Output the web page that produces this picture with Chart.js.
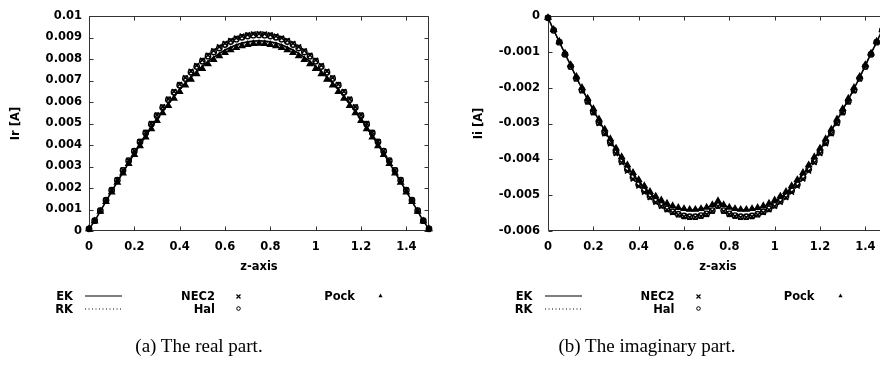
<!DOCTYPE html>
<html><head><meta charset="utf-8">
<script src="https://cdn.jsdelivr.net/npm/chart.js@4"></script>
<style>
html,body{margin:0;padding:0;background:#fff;overflow:hidden;width:880px;height:383px;}
#wrap{position:relative;width:880px;height:383px;overflow:hidden;background:#fff;}
canvas{position:absolute;top:0;left:0;}
.t{position:absolute;font:bold 11.5px "DejaVu Sans";line-height:14px;white-space:nowrap;color:#000;}
.cap{position:absolute;font:19px "Liberation Serif";line-height:19px;white-space:nowrap;color:#000;text-align:center;width:300px;}
svg.sym{position:absolute;overflow:visible;}
</style></head><body><div id="wrap">
<div style="position:absolute;left:0;top:0;width:440px;height:383px"><canvas id="c1" width="440" height="383"></canvas></div>
<div style="position:absolute;left:440px;top:0;width:460px;height:383px"><canvas id="c2" width="460" height="383"></canvas></div>
</div>
<script>
// ---------- data ----------
const zValues = [0,0.025,0.05,0.075,0.1,0.125,0.15,0.175,0.2,0.225,0.25,0.275,0.3,0.325,0.35,0.375,0.4,0.425,0.45,0.475,0.5,0.525,0.55,0.575,0.6,0.625,0.65,0.675,0.7,0.725,0.75,0.775,0.8,0.825,0.85,0.875,0.9,0.925,0.95,0.975,1,1.025,1.05,1.075,1.1,1.125,1.15,1.175,1.2,1.225,1.25,1.275,1.3,1.325,1.35,1.375,1.4,1.425,1.45,1.475,1.5];

const seriesNames = ['EK','RK','NEC2','Hal','Pock'];

// Real part Ir [A]
const irEK   = [0.0001,0.00046,0.00092,0.00138,0.00184,0.00229,0.00273,0.00317,0.00360,0.00402,0.00442,0.00482,0.00520,0.00557,0.00592,0.00626,0.00658,0.00688,0.00716,0.00742,0.00766,0.00789,0.00808,0.00826,0.00842,0.00855,0.00866,0.00874,0.00880,0.00884,0.00885,0.00884,0.00880,0.00874,0.00866,0.00855,0.00842,0.00826,0.00808,0.00789,0.00766,0.00742,0.00716,0.00688,0.00658,0.00626,0.00592,0.00557,0.00520,0.00482,0.00442,0.00402,0.00360,0.00317,0.00273,0.00229,0.00184,0.00138,0.00092,0.00046,0.0001];
const irRK   = [0.0001,0.00046,0.00092,0.00138,0.00183,0.00228,0.00272,0.00315,0.00358,0.00400,0.00440,0.00479,0.00517,0.00554,0.00589,0.00622,0.00654,0.00684,0.00712,0.00738,0.00762,0.00784,0.00804,0.00822,0.00837,0.00850,0.00861,0.00869,0.00875,0.00879,0.00880,0.00879,0.00875,0.00869,0.00861,0.00850,0.00837,0.00822,0.00804,0.00784,0.00762,0.00738,0.00712,0.00684,0.00654,0.00622,0.00589,0.00554,0.00517,0.00479,0.00440,0.00400,0.00358,0.00315,0.00272,0.00228,0.00183,0.00138,0.00092,0.00046,0.0001];
const irNEC2 = [0.0001,0.00048,0.00096,0.00144,0.00191,0.00238,0.00284,0.00329,0.00373,0.00417,0.00459,0.00500,0.00540,0.00578,0.00614,0.00649,0.00682,0.00713,0.00743,0.00770,0.00795,0.00818,0.00839,0.00857,0.00873,0.00887,0.00898,0.00907,0.00913,0.00917,0.00918,0.00917,0.00913,0.00907,0.00898,0.00887,0.00873,0.00857,0.00839,0.00818,0.00795,0.00770,0.00743,0.00713,0.00682,0.00649,0.00614,0.00578,0.00540,0.00500,0.00459,0.00417,0.00373,0.00329,0.00284,0.00238,0.00191,0.00144,0.00096,0.00048,0.0001];
const irHal  = [0.0001,0.00048,0.00095,0.00143,0.00190,0.00236,0.00282,0.00327,0.00371,0.00414,0.00456,0.00497,0.00536,0.00574,0.00610,0.00645,0.00678,0.00709,0.00738,0.00765,0.00790,0.00813,0.00833,0.00851,0.00867,0.00881,0.00892,0.00901,0.00907,0.00911,0.00912,0.00911,0.00907,0.00901,0.00892,0.00881,0.00867,0.00851,0.00833,0.00813,0.00790,0.00765,0.00738,0.00709,0.00678,0.00645,0.00610,0.00574,0.00536,0.00497,0.00456,0.00414,0.00371,0.00327,0.00282,0.00236,0.00190,0.00143,0.00095,0.00048,0.0001];
const irPock = [0.0001,0.00046,0.00091,0.00136,0.00181,0.00226,0.00269,0.00313,0.00355,0.00396,0.00436,0.00475,0.00513,0.00549,0.00583,0.00617,0.00648,0.00678,0.00705,0.00731,0.00755,0.00777,0.00797,0.00814,0.00829,0.00842,0.00853,0.00861,0.00867,0.00871,0.00872,0.00871,0.00867,0.00861,0.00853,0.00842,0.00829,0.00814,0.00797,0.00777,0.00755,0.00731,0.00705,0.00678,0.00648,0.00617,0.00583,0.00549,0.00513,0.00475,0.00436,0.00396,0.00355,0.00313,0.00269,0.00226,0.00181,0.00136,0.00091,0.00046,0.0001];

// Imaginary part Ii [A]
const iiEK   = [-0.00005,-0.00039,-0.00072,-0.00105,-0.00138,-0.00171,-0.00203,-0.00233,-0.00262,-0.00291,-0.00320,-0.00347,-0.00374,-0.00398,-0.00421,-0.00442,-0.00462,-0.00479,-0.00495,-0.00507,-0.00518,-0.00526,-0.00532,-0.00537,-0.00540,-0.00542,-0.00541,-0.00539,-0.00535,-0.00528,-0.00517,-0.00528,-0.00535,-0.00539,-0.00541,-0.00542,-0.00540,-0.00537,-0.00532,-0.00526,-0.00518,-0.00507,-0.00495,-0.00479,-0.00462,-0.00442,-0.00421,-0.00398,-0.00374,-0.00347,-0.00320,-0.00291,-0.00262,-0.00233,-0.00203,-0.00171,-0.00138,-0.00105,-0.00072,-0.00039,-0.00005];
const iiRK   = [-0.00005,-0.00040,-0.00073,-0.00106,-0.00139,-0.00172,-0.00204,-0.00234,-0.00264,-0.00293,-0.00321,-0.00348,-0.00375,-0.00399,-0.00422,-0.00443,-0.00463,-0.00480,-0.00495,-0.00508,-0.00519,-0.00527,-0.00533,-0.00538,-0.00541,-0.00543,-0.00542,-0.00540,-0.00536,-0.00529,-0.00518,-0.00529,-0.00536,-0.00540,-0.00542,-0.00543,-0.00541,-0.00538,-0.00533,-0.00527,-0.00519,-0.00508,-0.00495,-0.00480,-0.00463,-0.00443,-0.00422,-0.00399,-0.00375,-0.00348,-0.00321,-0.00293,-0.00264,-0.00234,-0.00204,-0.00172,-0.00139,-0.00106,-0.00073,-0.00040,-0.00005];
const iiNEC2 = [-0.00005,-0.00040,-0.00074,-0.00108,-0.00142,-0.00176,-0.00209,-0.00240,-0.00270,-0.00300,-0.00329,-0.00357,-0.00384,-0.00409,-0.00433,-0.00455,-0.00475,-0.00492,-0.00507,-0.00520,-0.00531,-0.00541,-0.00549,-0.00555,-0.00560,-0.00562,-0.00562,-0.00559,-0.00554,-0.00545,-0.00531,-0.00545,-0.00554,-0.00559,-0.00562,-0.00562,-0.00560,-0.00555,-0.00549,-0.00541,-0.00531,-0.00520,-0.00507,-0.00492,-0.00475,-0.00455,-0.00433,-0.00409,-0.00384,-0.00357,-0.00329,-0.00300,-0.00270,-0.00240,-0.00209,-0.00176,-0.00142,-0.00108,-0.00074,-0.00040,-0.00005];
const iiHal  = [-0.00005,-0.00040,-0.00073,-0.00107,-0.00141,-0.00174,-0.00207,-0.00238,-0.00268,-0.00297,-0.00326,-0.00353,-0.00380,-0.00405,-0.00428,-0.00450,-0.00470,-0.00487,-0.00503,-0.00516,-0.00528,-0.00538,-0.00546,-0.00553,-0.00558,-0.00560,-0.00560,-0.00557,-0.00552,-0.00543,-0.00529,-0.00543,-0.00552,-0.00557,-0.00560,-0.00560,-0.00558,-0.00553,-0.00546,-0.00538,-0.00528,-0.00516,-0.00503,-0.00487,-0.00470,-0.00450,-0.00428,-0.00405,-0.00380,-0.00353,-0.00326,-0.00297,-0.00268,-0.00238,-0.00207,-0.00174,-0.00141,-0.00107,-0.00073,-0.00040,-0.00005];
const iiPock = [-0.00005,-0.00038,-0.00071,-0.00104,-0.00136,-0.00169,-0.00200,-0.00230,-0.00259,-0.00288,-0.00316,-0.00343,-0.00369,-0.00393,-0.00416,-0.00437,-0.00457,-0.00474,-0.00490,-0.00503,-0.00514,-0.00523,-0.00530,-0.00535,-0.00538,-0.00540,-0.00540,-0.00538,-0.00534,-0.00527,-0.00516,-0.00527,-0.00534,-0.00538,-0.00540,-0.00540,-0.00538,-0.00535,-0.00530,-0.00523,-0.00514,-0.00503,-0.00490,-0.00474,-0.00457,-0.00437,-0.00416,-0.00393,-0.00369,-0.00343,-0.00316,-0.00288,-0.00259,-0.00230,-0.00200,-0.00169,-0.00136,-0.00104,-0.00071,-0.00038,-0.00005];

// ticks
const xTickValues = [0,0.2,0.4,0.6,0.8,1,1.2,1.4];
const xTickLabels = ['0','0.2','0.4','0.6','0.8','1','1.2','1.4'];
const irTickValues = [0,0.001,0.002,0.003,0.004,0.005,0.006,0.007,0.008,0.009,0.01];
const irTickLabels = ['0','0.001','0.002','0.003','0.004','0.005','0.006','0.007','0.008','0.009','0.01'];
const iiTickValues = [-0.006,-0.005,-0.004,-0.003,-0.002,-0.001,0];
const iiTickLabels = ['-0.006','-0.005','-0.004','-0.003','-0.002','-0.001','0'];

const captions = ['(a) The real part.', '(b) The imaginary part.'];

// ---------- rendering ----------
const F = {family:'DejaVu Sans', size:11.5, weight:'bold', lineHeight:1.2};
const INK = '#000';

const framePlugin = {
  id:'frame',
  beforeDatasetsDraw(chart){
    const {ctx, chartArea:a, scales:{x,y}} = chart;
    ctx.save();
    ctx.strokeStyle = '#333'; ctx.lineWidth = 1;
    const L = Math.round(a.left)+0.5, R = Math.round(a.right)-0.5, T = Math.round(a.top)+0.5, B = Math.round(a.bottom)-0.5;
    ctx.beginPath();
    ctx.rect(L, T, R-L, B-T);
    x.ticks.forEach(t=>{ const p = Math.round(x.getPixelForValue(t.value))+0.5;
      ctx.moveTo(p,B); ctx.lineTo(p,B-4); ctx.moveTo(p,T); ctx.lineTo(p,T+4); });
    y.ticks.forEach(t=>{ const p = Math.round(y.getPixelForValue(t.value))+0.5;
      ctx.moveTo(L,p); ctx.lineTo(L+4,p); ctx.moveTo(R,p); ctx.lineTo(R-4,p); });
    ctx.stroke();
    ctx.restore();
  }
};

function pts(ys){ return zValues.map((z,i)=>({x:z, y:ys[i]})); }

function makeDatasets(ek, rk, nec, hal, pock){
  return [
    {label:seriesNames[0], data:pts(ek), borderColor:INK, borderWidth:1.6, pointRadius:0, fill:false},
    {label:seriesNames[1], data:pts(rk), borderColor:INK, borderWidth:1.2, borderDash:[1,2], pointRadius:0, fill:false},
    {label:seriesNames[2], data:pts(nec), showLine:false, pointStyle:'crossRot', pointRadius:3.3, pointBorderWidth:1.6, pointBorderColor:INK, pointBackgroundColor:INK},
    {label:seriesNames[3], data:pts(hal), showLine:false, pointStyle:'circle', pointRadius:2.7, pointBorderWidth:1.4, pointBorderColor:INK, pointBackgroundColor:'rgba(0,0,0,0)'},
    {label:seriesNames[4], data:pts(pock), showLine:false, pointStyle:'triangle', pointRadius:3.4, pointBorderWidth:1.2, pointBorderColor:INK, pointBackgroundColor:INK}
  ];
}

function makeChart(id, datasets, yMin, yMax, yTV, yTL, yTitle, yWidth, yTitlePad, yLabelPad, padRight){
  return new Chart(document.getElementById(id), {
    type:'line',
    data:{datasets},
    plugins:[framePlugin],
    options:{
      responsive:false, animation:false, events:[],
      layout:{padding:{left:0, right:padRight, top:16, bottom:102}},
      plugins:{legend:{display:false}, tooltip:{enabled:false}},
      elements:{line:{tension:0}},
      datasets:{line:{clip:4}},
      scales:{
        x:{type:'linear', min:0, max:1.5,
           grid:{display:false, drawTicks:false}, border:{display:false},
           afterBuildTicks:s=>{ s.ticks = xTickValues.map(v=>({value:v})); },
           ticks:{autoSkip:false, maxRotation:0, padding:9, font:F, color:INK, callback:(v,i)=>xTickLabels[i]},
           title:{display:true, text:'z-axis', font:F, color:INK, padding:{top:0, bottom:7}},
           afterFit:s=>{ s.height = 50; }},
        y:{type:'linear', min:yMin, max:yMax,
           grid:{display:false, drawTicks:false}, border:{display:false},
           afterBuildTicks:s=>{ s.ticks = yTV.map(v=>({value:v})); },
           ticks:{autoSkip:false, padding:yLabelPad, font:F, color:INK, callback:(v,i)=>yTL[i]},
           title:{display:true, text:yTitle, font:F, color:INK, padding:{top:yTitlePad, bottom:0}},
           afterFit:s=>{ s.width = yWidth; }}
      }
    }
  });
}

makeChart('c1', makeDatasets(irEK, irRK, irNEC2, irHal, irPock), 0, 0.01, irTickValues, irTickLabels, 'Ir [A]', 89, 9.1, 7, 11);
makeChart('c2', makeDatasets(iiEK, iiRK, iiNEC2, iiHal, iiPock), -0.006, 0, iiTickValues, iiTickLabels, 'Ii [A]', 108, 32.1, 8, 12);

// ---------- legends & captions (HTML) ----------
const wrap = document.getElementById('wrap');
function txt(s, right, top){ const d=document.createElement('div'); d.className='t'; d.textContent=s; d.style.right=(880-right)+'px'; d.style.top=top+'px'; wrap.appendChild(d); }
function svg(x, y, w, h, inner){ const n='http://www.w3.org/2000/svg'; const e=document.createElementNS(n,'svg'); e.setAttribute('class','sym'); e.setAttribute('width',w); e.setAttribute('height',h); e.style.left=x+'px'; e.style.top=y+'px'; e.innerHTML=inner; wrap.appendChild(e); }
[0, 459.5].forEach((dx, k)=>{
  const r1 = 288.7, r2 = 301.5;
  txt(seriesNames[0], 73+dx, r1);
  txt(seriesNames[1], 73+dx, r2);
  svg(85+dx, 295, 38, 2, '<line x1="0" y1="1" x2="37" y2="1" stroke="#000" stroke-width="1.1"/>');
  svg(85+dx, 308, 38, 2, '<line x1="0" y1="1" x2="37" y2="1" stroke="#000" stroke-width="1" stroke-dasharray="1,2.5"/>');
  txt(seriesNames[2], 215+dx, r1);
  txt(seriesNames[3], 215+dx, r2);
  svg(236+dx, 293.5, 5, 5, '<path d="M0.5 0.5L4.5 4.5M4.5 0.5L0.5 4.5" stroke="#000" stroke-width="1.2"/>');
  svg(236+dx, 306, 5, 5, '<circle cx="2.5" cy="2.5" r="1.8" fill="none" stroke="#000" stroke-width="1"/>');
  txt(seriesNames[4], 355+dx, r1);
  svg(378+dx, 293, 5, 5, '<path d="M2.5 0.5L4.6 4.2L0.4 4.2Z" fill="#000"/>');
  const c=document.createElement('div'); c.className='cap'; c.textContent=captions[k];
  c.style.left=(k===0?199-150:647-150)+'px'; c.style.top='336px'; wrap.appendChild(c);
});
</script>
</body></html>
